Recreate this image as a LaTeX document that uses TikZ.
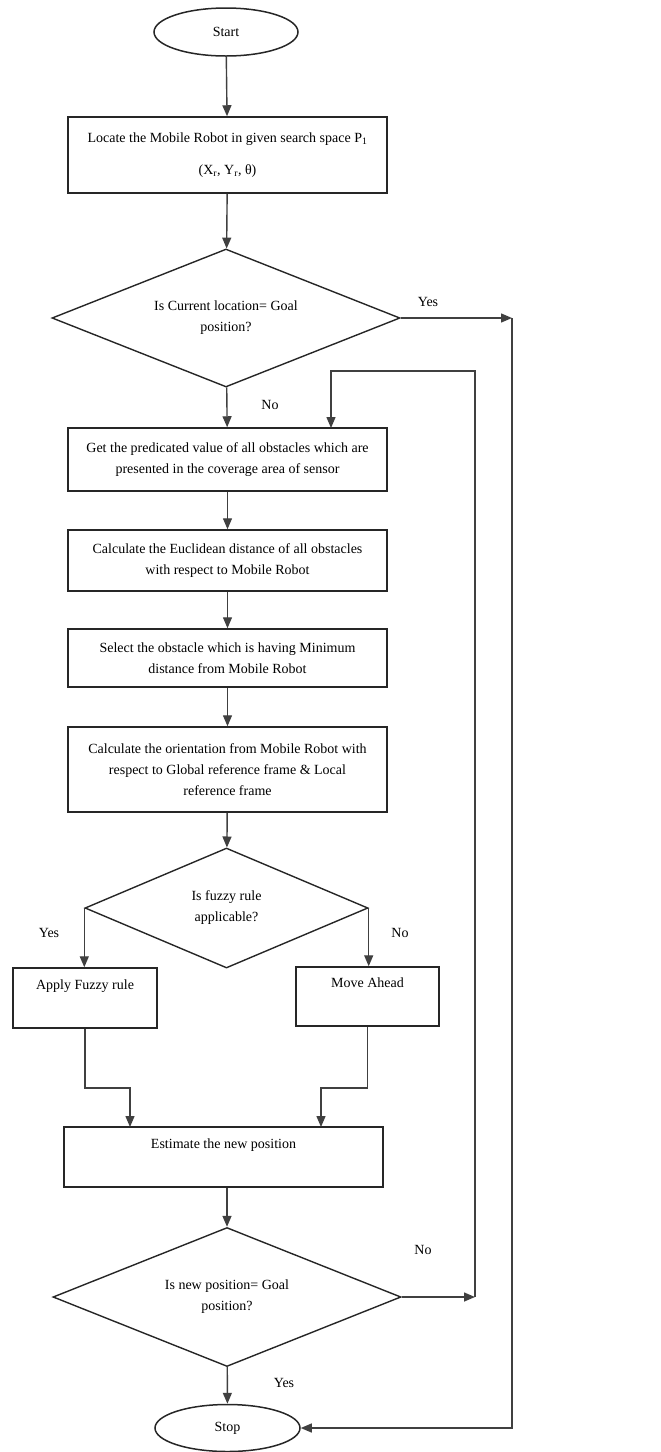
\documentclass[tikz,border=0pt]{standalone}
\usepackage{fontspec}
\setmainfont{Liberation Serif}
\usetikzlibrary{shapes.geometric,arrows.meta}

\begin{document}
\begin{tikzpicture}[x=1pt,y=-1pt,
    font=\fontsize{14}{21}\selectfont,
    box/.style={draw=black!85, line width=1.5pt, rectangle, align=center, inner sep=0pt},
    term/.style={draw=black!85, line width=1.5pt, ellipse, inner sep=0pt},
    decide/.style={draw=black!85, line width=1.4pt, diamond, aspect=2.5, align=center, inner sep=0pt},
    arr/.style={draw=black!75, line width=1.4pt, -{Triangle[length=11pt,width=9pt]}},
    wire/.style={draw=black!75, line width=1.4pt}]
  \useasboundingbox (0,0) rectangle (661,1452);

  % Start and Stop
  \node[term, minimum width=144, minimum height=48] (start) at (226,32) {Start};
  \node[term, minimum width=145, minimum height=47] (stop) at (227.5,1428) {Stop};

  % Process boxes
  \node[box, minimum width=319, minimum height=76] (locate) at (227.5,155)
    {Locate the Mobile Robot in given search space P\textsubscript{1}\\[11pt] (X\textsubscript{r}, Y\textsubscript{r}, θ)};
  \node[box, minimum width=319, minimum height=63] (predict) at (227.5,459.5)
    {Get the predicated value of all obstacles which are\\ presented in the coverage area of sensor};
  \node[box, minimum width=319, minimum height=61] (euclid) at (227.5,560.5)
    {Calculate the Euclidean distance of all obstacles\\ with respect to Mobile Robot};
  \node[box, minimum width=319, minimum height=58] (select) at (227.5,658)
    {Select the obstacle which is having Minimum\\ distance from Mobile Robot};
  \node[box, minimum width=319, minimum height=85] (orient) at (227.5,769.5)
    {Calculate the orientation from Mobile Robot with\\ respect to Global reference frame \& Local\\ reference frame};
  \node[box, minimum width=144, minimum height=60] (apply) at (85,998)
    {Apply Fuzzy rule\\ \strut};
  \node[box, minimum width=143, minimum height=59] (move) at (367.5,996.5)
    {Move Ahead\\ \strut};
  \node[box, minimum width=319, minimum height=60] (estimate) at (223.5,1157)
    {Estimate the new position\\ \strut};

  % Decisions
  \node[decide, minimum width=348, minimum height=138] (goalq) at (226,318)
    {Is Current location= Goal\\ position?};
  \node[decide, minimum width=283, minimum height=120] (fuzzyq) at (226.5,908)
    {Is fuzzy rule\\ applicable?};
  \node[decide, minimum width=348, minimum height=139] (newq) at (227,1297)
    {Is new position= Goal\\ position?};

  % Main chain
  \foreach \a/\b in {start/locate, locate/goalq, goalq/predict, predict/euclid,
                     euclid/select, select/orient, orient/fuzzyq}
    \draw[arr] (\a) -- (\b);
  \draw[arr] (newq.north |- estimate.south) -- (newq.north);
  \draw[arr] (newq) -- (stop);

  % Fuzzy branches
  \draw[arr] (fuzzyq.west) -- (fuzzyq.west |- apply.north);
  \draw[arr] (fuzzyq.east) -- (fuzzyq.east |- move.north);
  \coordinate (estl) at (130,1127);
  \coordinate (estr) at (321,1127);
  \draw[arr] (apply.south) -- (85,1088) -| (estl);
  \draw[arr] (move.south) -- (367.5,1088) -| (estr);

  % Goal reached
  \coordinate (yescorner) at (512,318);
  \draw[arr] (goalq.east) -- (yescorner);
  \draw[arr] (yescorner) |- (stop.east);

  % Loop back
  \coordinate (nocorner) at (475,1297);
  \coordinate (looptop) at (475,371);
  \coordinate (loopin) at (331,428);
  \draw[arr] (newq.east) -- (nocorner);
  \draw[arr] (nocorner) -- (looptop) -| (loopin);

  % Labels
  \node (lyes1) at (428,302) {Yes};
  \node (lno1) at (270,405) {No};
  \node (lyes2) at (49,933) {Yes};
  \node (lno2) at (400,933) {No};
  \node (lno3) at (423,1250) {No};
  \node (lyes3) at (284,1383) {Yes};
\end{tikzpicture}
\end{document}
